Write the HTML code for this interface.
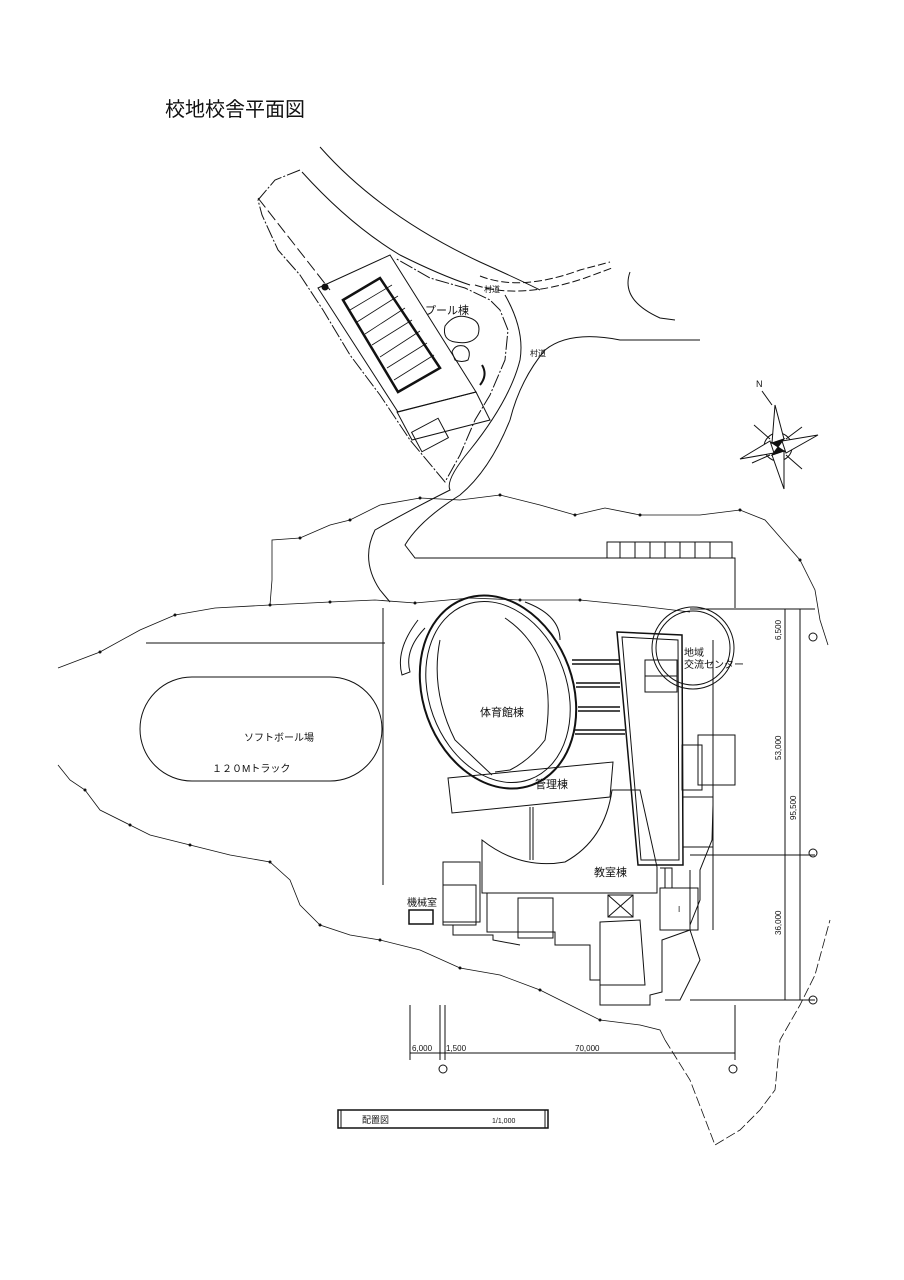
<!DOCTYPE html>
<html><head><meta charset="utf-8"><style>
body{margin:0;background:#fff}
svg{display:block}
text{font-family:"Liberation Sans","Noto Sans CJK JP",sans-serif;fill:#111}
</style></head><body>
<svg width="904" height="1280" viewBox="0 0 904 1280" xmlns="http://www.w3.org/2000/svg" fill="none" stroke="#111" stroke-width="1">
<text x="165" y="116" font-size="20" stroke="none">校地校舎平面図</text>

<path d="M320 147 Q380 215 480 262 Q520 280 540 290" />
<path d="M302 172 Q350 225 400 255 Q440 275 470 285" />
<path d="M480 276 Q520 292 580 270 L610 262" stroke-dasharray="8,3"/>
<path d="M475 285 Q520 300 585 278 L612 268" stroke-dasharray="8,3"/>
<path d="M630 272 Q620 300 660 318 L675 320"/>
<path d="M505 295 Q525 330 520 360 Q510 400 470 450 Q445 480 450 490 Q410 510 375 530 Q360 560 380 590 L390 602"/>
<path d="M545 350 Q570 330 620 340 L700 340"/>
<path d="M545 350 Q520 380 510 420 Q490 470 460 495 Q420 520 405 545 L415 558 L735 558 L735 608"/>
<rect x="607" y="542" width="125" height="16"/>
<path d="M620 542v16M635 542v16M650 542v16M665 542v16M680 542v16M695 542v16M710 542v16"/>
<text x="484" y="292" font-size="8" stroke="none">村道</text>
<text x="530" y="356" font-size="8" stroke="none">村道</text>

<polyline points="300,170 275,180 258,200 262,215 278,250 300,275 323,310 350,355 380,395 410,440 435,470 445,482 460,455 475,420 490,395 505,360 508,330 500,310 490,300 465,288 430,278 395,258" stroke-dasharray="14,2,2,2"/>
<path d="M258 198 L330 290" stroke-dasharray="12,4"/>
<polygon points="318,288 390,255 476,392 398,412"/>
<polygon points="343,300 380,278 440,368 398,392" stroke-width="2.5"/>
<path d="M350 310 L392 285 M357 322 L398 296 M365 334 L405 308 M372 345 L412 320 M380 357 L420 331 M387 368 L427 343 M394 380 L434 355" stroke-width="0.8"/>
<polygon points="397,412 476,392 490,420 412,440"/>
<rect x="415" y="424" width="30" height="22" transform="rotate(-28 430 435)"/>
<circle cx="325" cy="287" r="3" fill="#111"/>
<path d="M445 326 Q455 312 470 318 Q482 322 478 335 Q472 345 455 342 Q442 340 445 326Z"/>
<path d="M452 352 Q455 344 464 346 Q472 350 468 360 Q462 363 455 360Z"/>
<path d="M482 365 Q488 375 480 385" stroke-width="2"/>
<text x="425" y="314" font-size="11" stroke="none">プール棟</text>

<g transform="translate(778,447)">
<circle r="14"/><circle r="8"/>
<path d="M-3,-42 L6,-8 L-6,-4Z M6,42 L-6,8 L6,4Z M-38,12 L-8,-6 L-4,6Z M40,-12 L8,6 L4,-6Z" fill="#fff"/>
<path d="M-8,-8 L-24,-22 M8,8 L24,22 M-8,8 L-26,16 M8,-8 L24,-20"/>
<path d="M0,0 L-6,-4 L6,-8Z M0,0 L6,4 L-6,8Z" fill="#111"/>
<text x="-22" y="-60" font-size="9" stroke="none">N</text>
<path d="M-16,-56 L-6,-42"/>
</g>

<polyline points="58,668 100,652 140,630 175,615 215,608 270,605 330,602 375,600 415,603 470,598 520,600 580,600 640,606 690,612" stroke-width="0.8"/>
<g fill="#111" stroke="none"><circle cx="100" cy="652" r="1.5"/><circle cx="175" cy="615" r="1.5"/><circle cx="270" cy="605" r="1.5"/><circle cx="330" cy="602" r="1.5"/><circle cx="415" cy="603" r="1.5"/><circle cx="520" cy="600" r="1.5"/><circle cx="580" cy="600" r="1.5"/>
<circle cx="300" cy="538" r="1.5"/><circle cx="350" cy="520" r="1.5"/><circle cx="420" cy="498" r="1.5"/><circle cx="500" cy="495" r="1.5"/><circle cx="575" cy="515" r="1.5"/><circle cx="640" cy="515" r="1.5"/><circle cx="740" cy="510" r="1.5"/><circle cx="800" cy="560" r="1.5"/>
<circle cx="85" cy="790" r="1.5"/><circle cx="130" cy="825" r="1.5"/><circle cx="190" cy="845" r="1.5"/><circle cx="270" cy="862" r="1.5"/><circle cx="320" cy="925" r="1.5"/><circle cx="380" cy="940" r="1.5"/><circle cx="460" cy="968" r="1.5"/><circle cx="540" cy="990" r="1.5"/><circle cx="600" cy="1020" r="1.5"/></g>
<polyline points="270,605 272,580 272,540 300,538 330,525 350,520 380,505 420,498 460,500 500,495 540,505 575,515 605,508 640,515 700,515 740,510 765,520 800,560 815,590 820,620 828,645" stroke-width="0.8"/>
<polyline points="58,765 70,780 85,790 100,810 130,825 150,835 190,845 230,855 270,862 290,880 300,905 320,925 350,935 380,940 420,950 460,968 500,975 540,990 560,1000 600,1020 640,1025 660,1030 665,1040" stroke-width="0.8"/>
<polyline points="665,1040 690,1080 715,1145 740,1130 760,1110 775,1090 780,1040 800,1005 815,975 830,920" stroke-width="0.8" stroke-dasharray="10,3"/>
<line x1="146" y1="643" x2="385" y2="643"/>
<line x1="383" y1="608" x2="383" y2="885"/>

<rect x="140" y="677" width="242" height="104" rx="52" ry="52"/>
<text x="244" y="741" font-size="10" stroke="none">ソフトボール場</text>
<text x="212" y="772" font-size="10" stroke="none">１２０Mトラック</text>

<ellipse cx="498" cy="692" rx="75" ry="99" transform="rotate(-20 498 692)" stroke-width="2"/>
<ellipse cx="498" cy="692" rx="69" ry="93" transform="rotate(-20 498 692)"/>
<path d="M505 618 Q560 655 545 740 Q530 760 510 770 L495 772" />
<path d="M440 640 Q430 690 455 740 L492 775"/>
<path d="M525 602 Q560 615 560 640"/>
<path d="M418 620 Q395 650 402 675 L410 672 Q404 650 425 628" />
<text x="480" y="716" font-size="11" stroke="none">体育館棟</text>
<path d="M572 660 H620 M572 664 H620 M576 683 H620 M576 687 H620 M578 707 H620 M578 711 H620 M575 730 H625 M575 734 H625" stroke-width="1.5"/>

<polygon points="448,778 613,762 610,797 452,813"/>
<text x="535" y="788" font-size="11" stroke="none">管理棟</text>
<path d="M530 807 V860 M533 807 V860"/>

<path d="M482 840 Q520 870 565 862 Q605 840 612 790 L615 790 L640 790 L657 867 L657 893 L482 893 Z"/>
<text x="594" y="876" font-size="11" stroke="none">教室棟</text>

<polygon points="617,632 682,635 683,865 638,865" stroke-width="1.5"/>
<polygon points="622,637 678,640 679,860 641,860"/>
<rect x="645" y="660" width="32" height="32"/>
<line x1="645" y1="676" x2="677" y2="676"/>
<circle cx="693" cy="648" r="41"/><circle cx="693" cy="648" r="37"/>
<text x="684" y="656" font-size="10" stroke="none">地域</text>
<text x="684" y="668" font-size="10" stroke="none">交流センター</text>

<rect x="698" y="735" width="37" height="50"/>
<rect x="682" y="745" width="20" height="45"/>
<rect x="683" y="797" width="30" height="50"/>
<rect x="660" y="888" width="38" height="42"/>
<text x="678" y="912" font-size="8" stroke="none">I</text>
<path d="M660 868 H672 V888 M665 868 V888"/>
<rect x="443" y="862" width="37" height="60"/>
<rect x="443" y="885" width="33" height="40"/>
<rect x="518" y="898" width="35" height="40"/>
<rect x="608" y="895" width="25" height="22"/>
<path d="M608 895 L633 917 M633 895 L608 917"/>
<polygon points="600,922 640,920 645,985 600,985"/>
<polyline points="487,893 487,932 555,932 555,945 590,945 590,980 600,980 600,1005 650,1005 650,995 662,992 662,940 690,930 690,870"/>
<polyline points="453,925 453,935 493,935 493,940 520,945"/>
<polyline points="690,930 700,960 680,1000 665,1000"/>
<rect x="409" y="910" width="24" height="14" stroke-width="1.5"/>
<text x="407" y="906" font-size="10" stroke="none">機械室</text>
<polyline points="713,805 712,840 700,870 700,900 690,925" />
<path d="M713 640 V930" />

<line x1="690" y1="609" x2="815" y2="609"/>
<line x1="690" y1="855" x2="815" y2="855"/>
<line x1="690" y1="1000" x2="815" y2="1000"/>
<line x1="785" y1="609" x2="785" y2="1000"/>
<line x1="800" y1="609" x2="800" y2="1000"/>
<text font-size="8" stroke="none" transform="translate(781,640) rotate(-90)">6,500</text>
<text font-size="8" stroke="none" transform="translate(781,760) rotate(-90)">53,000</text>
<text font-size="8" stroke="none" transform="translate(796,820) rotate(-90)">95,500</text>
<text font-size="8" stroke="none" transform="translate(781,935) rotate(-90)">36,000</text>
<circle cx="813" cy="637" r="4"/><circle cx="813" cy="853" r="4"/><circle cx="813" cy="1000" r="4"/>
<line x1="410" y1="1053" x2="735" y2="1053"/>
<path d="M410 1005 V1060 M440 1005 V1060 M445 1005 V1060 M735 1005 V1060"/>
<text x="412" y="1051" font-size="8" stroke="none">6,000</text>
<text x="446" y="1051" font-size="8" stroke="none">1,500</text>
<text x="575" y="1051" font-size="8" stroke="none">70,000</text>
<circle cx="443" cy="1069" r="4"/><circle cx="733" cy="1069" r="4"/>

<rect x="338" y="1110" width="210" height="18" stroke-width="1.5"/>
<line x1="341" y1="1110" x2="341" y2="1128"/><line x1="545" y1="1110" x2="545" y2="1128"/>
<text x="362" y="1123" font-size="9" stroke="none">配置図</text>
<text x="492" y="1123" font-size="7" stroke="none">1/1,000</text>
</svg>
</body></html>
